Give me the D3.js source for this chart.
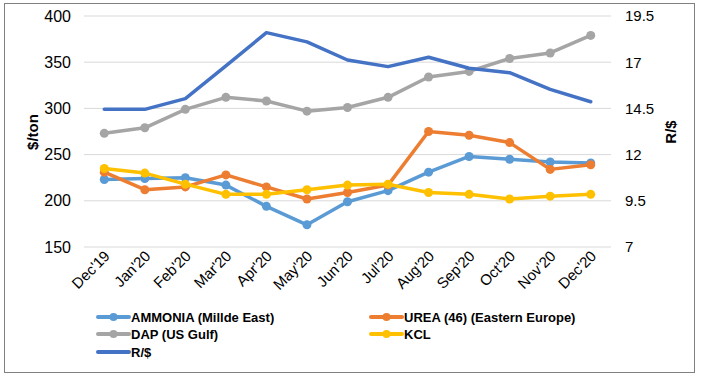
<!DOCTYPE html>
<html><head><meta charset="utf-8">
<script src="https://cdn.jsdelivr.net/npm/d3@7/dist/d3.min.js"></script>
<style>body{margin:0;background:#fff;}svg{display:block;font-family:"Liberation Sans",Arial,sans-serif;}</style>
</head><body>
<script>
const categories = ["Dec'19","Jan'20","Feb'20","Mar'20","Apr'20","May'20","Jun'20","Jul'20","Aug'20","Sep'20","Oct'20","Nov'20","Dec'20"];
const ammonia = [223,224,225,217,194,174,199,211,231,248,245,242,241];
const urea = [231,212,215,228,215,202,209,217,275,271,263,234,239];
const dap = [273,279,299,312,308,297,301,312,334,340,354,360,379];
const kcl = [235,230,218,207,207,212,217,218,209,207,202,205,207];
const randPerDollar = [14.45,14.45,15.03,16.8,18.6,18.1,17.12,16.76,17.27,16.67,16.43,15.53,14.86];
const leftTicks = [150,200,250,300,350,400];
const rightTicks = [7,9.5,12,14.5,17,19.5];

const W = 701, H = 378;
const svg = d3.select("body").append("svg").attr("width", W).attr("height", H);
svg.append("rect").attr("x",4.5).attr("y",3.5).attr("width",690).attr("height",369)
  .attr("fill","#fff").attr("stroke","#808080").attr("stroke-width",1);

const x = d3.scalePoint().domain(categories).range([84,611]).padding(0.5);
const yL = d3.scaleLinear().domain([150,400]).range([247,16]);
const yR = d3.scaleLinear().domain([7,19.5]).range([247,16]);

// gridlines
svg.append("g").selectAll("line").data(leftTicks).join("line")
  .attr("x1",84).attr("x2",611).attr("y1",d=>yL(d)).attr("y2",d=>yL(d))
  .attr("stroke","#d9d9d9").attr("stroke-width",1);

// left axis
const gL = svg.append("g").attr("transform","translate(84,0)")
  .call(d3.axisLeft(yL).tickValues(leftTicks).tickSize(0).tickPadding(13));
gL.select(".domain").remove();
gL.selectAll("text").attr("font-size",16).attr("fill","#000").style("font-family","'Liberation Sans',Arial,sans-serif");

// right axis
const gR = svg.append("g").attr("transform","translate(611,0)")
  .call(d3.axisRight(yR).tickValues(rightTicks).tickSize(0).tickPadding(14).tickFormat(d=>String(d)));
gR.select(".domain").remove();
gR.selectAll("text").attr("font-size",15).attr("fill","#000").style("font-family","'Liberation Sans',Arial,sans-serif");

// x axis labels
const gX = svg.append("g").attr("transform","translate(0,247)")
  .call(d3.axisBottom(x).tickSize(0).tickPadding(0));
gX.select(".domain").remove();
gX.selectAll("text")
  .attr("font-size",15).attr("fill","#000").style("font-family","'Liberation Sans',Arial,sans-serif")
  .attr("text-anchor","end").attr("dy",0)
  .attr("transform","translate(6,10) rotate(-45)");

// axis titles
svg.append("text").attr("transform","translate(38,132) rotate(-90)")
  .attr("text-anchor","middle").attr("font-size",15).attr("font-weight","bold").text("$/ton");
svg.append("text").attr("transform","translate(676,132) rotate(-90)")
  .attr("text-anchor","middle").attr("font-size",15).attr("font-weight","bold").text("R/$");

const series = [
  {name:"AMMONIA (Millde East)", values:ammonia, color:"#5B9BD5", scale:yL, marker:true},
  {name:"UREA (46) (Eastern Europe)", values:urea, color:"#ED7D31", scale:yL, marker:true},
  {name:"DAP (US Gulf)", values:dap, color:"#A5A5A5", scale:yL, marker:true},
  {name:"KCL", values:kcl, color:"#FFC000", scale:yL, marker:true},
  {name:"R/$", values:randPerDollar, color:"#4472C4", scale:yR, marker:false}
];

series.forEach(s => {
  const line = d3.line().x((d,i)=>x(categories[i])).y(d=>s.scale(d));
  svg.append("path").datum(s.values).attr("d",line).attr("fill","none")
    .attr("stroke",s.color).attr("stroke-width",3.5).attr("stroke-linejoin","round").attr("stroke-linecap","round");
  if (s.marker) {
    svg.append("g").selectAll("circle").data(s.values).join("circle")
      .attr("cx",(d,i)=>x(categories[i])).attr("cy",d=>s.scale(d)).attr("r",4.5).attr("fill",s.color);
  }
});

// legend
const legendPos = [
  {x:98, y:317}, {x:371, y:317},
  {x:98, y:334}, {x:371, y:334},
  {x:98, y:352}
];
series.forEach((s,k) => {
  const p = legendPos[k];
  const g = svg.append("g");
  g.append("line").attr("x1",p.x).attr("x2",p.x+31).attr("y1",p.y).attr("y2",p.y)
    .attr("stroke",s.color).attr("stroke-width",4).attr("stroke-linecap","round");
  if (s.marker) g.append("circle").attr("cx",p.x+15.5).attr("cy",p.y).attr("r",4).attr("fill",s.color);
  g.append("text").attr("x",p.x+33).attr("y",p.y).attr("dy","0.35em")
    .attr("font-size",13).attr("font-weight","bold").attr("fill","#000").text(s.name);
});
</script>
</body></html>
